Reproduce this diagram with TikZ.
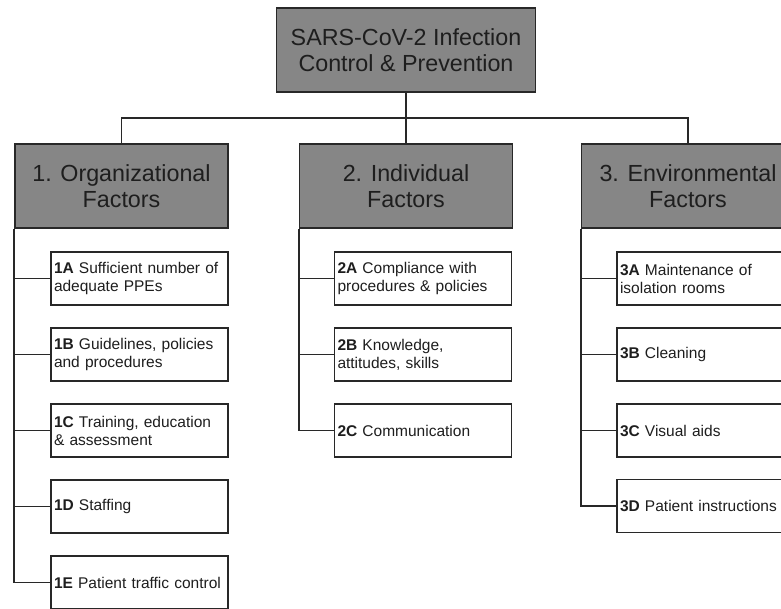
\documentclass[tikz,border=0pt]{standalone}
\usepackage{fontspec}
\setmainfont{Liberation Sans}
\definecolor{boxgray}{RGB}{134,134,134}
\definecolor{linec}{RGB}{40,40,40}
\definecolor{textc}{RGB}{30,30,30}
\tikzset{
  headbox/.style={draw=linec, line width=1.8pt, fill=boxgray, text=textc,
    minimum width=259pt, minimum height=84pt, align=center,
    font=\fontsize{23.3}{26}\selectfont},
  catbox/.style={headbox, minimum width=213pt},
  itembox/.style={draw=linec, line width=1.8pt, fill=white, text=textc,
    minimum width=177pt, minimum height=53pt, text width=171pt, inner sep=3pt,
    align=left, font=\fontsize{15.5}{18}\selectfont},
  link/.style={draw=linec, line width=1.8pt}
}
\begin{document}
\begin{tikzpicture}[x=1pt, y=-1pt]
  \path[use as bounding box] (0,0) rectangle (781,608);
  \clip (0,0) rectangle (781,608);
  % top box
  \node[headbox] (top) at (406, 50) {SARS-CoV-2 Infection\\Control \& Prevention};
  % factor boxes
  \node[catbox] (org) at (121.5, 186) {1. Organizational\\Factors};
  \node[catbox] (ind) at (406, 186) {2. Individual\\Factors};
  \node[catbox] (env) at (688, 186) {3. Environmental\\Factors};
  \coordinate (bus) at (0, 118);
  % items
  \node[itembox] (f1a) at (139.5, 278.5) {\textbf{1A} Sufficient number of\\adequate PPEs};
  \node[itembox] (f1b) at (139.5, 354.5) {\textbf{1B} Guidelines, policies\\and procedures};
  \node[itembox] (f1c) at (139.5, 430.5) {\textbf{1C} Training, education\\\& assessment};
  \node[itembox] (f1d) at (139.5, 506.5) {\textbf{1D} Staffing};
  \node[itembox] (f1e) at (139.5, 582.5) {\textbf{1E} Patient traffic control};
  \node[itembox] (f2a) at (423, 278.5) {\textbf{2A} Compliance with\\procedures \& policies};
  \node[itembox] (f2b) at (423, 354.5) {\textbf{2B} Knowledge,\\attitudes, skills};
  \node[itembox] (f2c) at (423, 430.5) {\textbf{2C} Communication};
  \node[itembox] (f3a) at (705.5, 278.5) {\textbf{3A} Maintenance of\\isolation rooms};
  \node[itembox] (f3b) at (705.5, 354.5) {\textbf{3B} Cleaning};
  \node[itembox] (f3c) at (705.5, 430.5) {\textbf{3C} Visual aids};
  \node[itembox] (f3d) at (705.5, 506) {\textbf{3D} Patient instructions};
  % connectors
  \draw[link] (top.south) -- (ind.north);
  \draw[link] (org.north) -- (org.north |- bus) -- (env.north |- bus) -- (env.north);
  \draw[link] (org.south west) |- (f1a.west);
  \draw[link] (org.south west) |- (f1b.west);
  \draw[link] (org.south west) |- (f1c.west);
  \draw[link] (org.south west) |- (f1d.west);
  \draw[link] (org.south west) |- (f1e.west);
  \draw[link] (ind.south west) |- (f2a.west);
  \draw[link] (ind.south west) |- (f2b.west);
  \draw[link] (ind.south west) |- (f2c.west);
  \draw[link] (env.south west) |- (f3a.west);
  \draw[link] (env.south west) |- (f3b.west);
  \draw[link] (env.south west) |- (f3c.west);
  \draw[link] (env.south west) |- (f3d.west);
\end{tikzpicture}
\end{document}
